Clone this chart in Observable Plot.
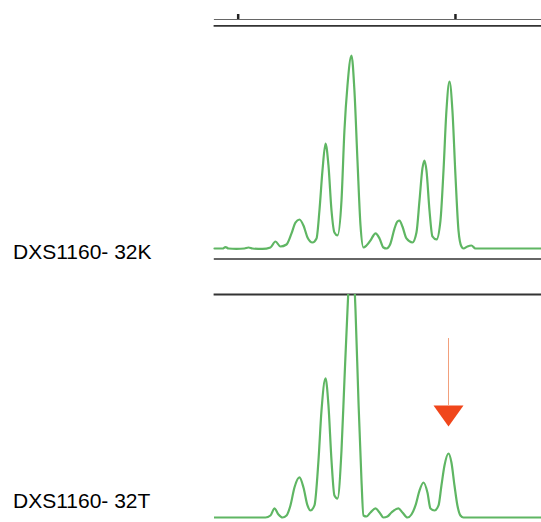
<!DOCTYPE html>
<html><head><meta charset="utf-8">
<script src="https://cdn.jsdelivr.net/npm/d3@7"></script>
<script src="https://cdn.jsdelivr.net/npm/@observablehq/plot@0.6"></script>
<style>
html,body{margin:0;padding:0;background:#fff;}
#chart{position:relative;width:541px;height:522px;overflow:hidden;font-family:Arial,"Liberation Sans",sans-serif;}
#chart svg{position:absolute;left:0;}
.lbl{position:absolute;left:13px;font-size:21px;line-height:21px;color:#000;white-space:nowrap;}
</style></head><body><div id="chart"></div>
<script>
// fragment size ticks (bp)
const sizeTicks = [120, 140];
const sizeDomain = [117.82, 147.92];

// sample 32K trace: size (bp) and signal (RFU)
const kBp  = [117.82,118.56,118.83,119.11,119.84,120.58,120.95,121.32,122.24,122.97,123.43,123.89,124.45,124.91,125.27,125.64,126.01,126.38,126.84,127.21,127.48,127.76,128.04,128.31,128.59,128.86,129.14,129.51,129.78,130.06,130.43,130.70,130.98,131.26,131.53,131.81,132.18,132.45,132.64,133.01,133.37,133.65,134.02,134.39,134.66,134.85,135.12,135.49,136.04,136.41,136.69,136.96,137.15,137.33,137.61,137.88,138.25,138.62,138.90,139.17,139.45,139.72,140.00,140.28,140.55,140.74,141.10,141.47,141.84,142.30,147.92];
const kRfu = [0,0,13,0,-4,0,9,0,-4,9,63,18,36,135,233,260,206,99,54,90,341,700,942,745,341,143,117,431,1058,1462,1731,1417,789,206,9,27,72,117,135,90,9,0,45,179,242,251,197,90,54,143,431,718,789,700,341,108,81,251,700,1238,1498,1238,655,161,18,0,18,27,0,0,0];

// sample 32T trace
const tBp  = [117.82,122.51,122.97,123.34,123.71,124.08,124.45,124.81,125.18,125.64,126.01,126.38,126.65,127.02,127.39,127.67,128.04,128.31,128.59,128.86,129.14,129.51,129.78,130.06,130.43,130.80,131.07,131.35,131.53,131.81,132.18,132.64,133.01,133.37,133.74,134.11,134.75,135.12,135.58,135.95,136.32,136.69,137.06,137.42,137.70,138.07,138.44,138.71,138.99,139.36,139.63,139.91,140.18,140.46,140.74,147.92];
const tRfu = [0,0,18,81,27,0,18,108,269,359,269,108,63,108,511,960,1247,1005,511,197,170,601,1229,1857,2484,1857,1049,332,18,9,45,81,45,0,9,45,81,45,0,27,108,242,314,224,81,63,108,287,466,574,493,287,108,18,0,0];

const sampleLabels = ["DXS1160- 32K", "DXS1160- 32T"];

// arrow annotation on sample 32T
const arrowBp = [139.36];
const arrowFrom = [1605];
const arrowTo = [1005];
const arrowHead = [910];

const kData = kBp.map((b, i) => ({bp: b, rfu: kRfu[i]}));
const tData = tBp.map((b, i) => ({bp: b, rfu: tRfu[i]}));
const arrowData = arrowBp.map((b, i) => ({bp: b, y1: arrowFrom[i], y2: arrowTo[i], yh: arrowHead[i]}));

const green = "#5fb663";
const downTriangle = {
  draw(ctx, size) {
    const r = Math.sqrt(size / Math.PI);
    ctx.moveTo(-r, -0.7 * r);
    ctx.lineTo(r, -0.7 * r);
    ctx.lineTo(0, 0.7 * r);
    ctx.closePath();
  }
};

const chartEl = document.getElementById("chart");

const panelK = Plot.plot({
  width: 541, height: 262,
  marginLeft: 214, marginRight: 0, marginTop: 19, marginBottom: 3.5,
  x: {domain: sizeDomain},
  y: {domain: [0, 2054], axis: null, insetBottom: 10.5},
  marks: [
    Plot.axisX({anchor: "top", ticks: sizeTicks, tickSize: 6, tickFormat: () => "", label: null, stroke: "#222", strokeWidth: 2.5}),
    Plot.frame({anchor: "top", stroke: "#666", strokeWidth: 1.2}),
    Plot.frame({anchor: "top", dy: 6.3, stroke: "#333", strokeWidth: 1.8}),
    Plot.frame({anchor: "bottom", stroke: "#333", strokeWidth: 1.4}),
    Plot.line(kData, {x: "bp", y: "rfu", curve: "monotone-x", stroke: green, strokeWidth: 2.2})
  ]
});
panelK.style.top = "0px";
chartEl.appendChild(panelK);

const panelT = Plot.plot({
  width: 541, height: 260,
  marginLeft: 214, marginRight: 0, marginTop: 32, marginBottom: 0,
  x: {domain: sizeDomain, axis: null},
  y: {domain: [0, 2000], axis: null, insetBottom: 5},
  marks: [
    Plot.frame({anchor: "top", stroke: "#333", strokeWidth: 1.8}),
    Plot.line(tData, {x: "bp", y: "rfu", curve: "monotone-x", stroke: green, strokeWidth: 2.2, clip: true}),
    Plot.ruleX(arrowData, {x: "bp", y1: "y1", y2: "y2", stroke: "#f2a07c", strokeWidth: 1}),
    Plot.dot(arrowData, {x: "bp", y: "yh", symbol: downTriangle, r: 15, fill: "#f0461b", stroke: "none"})
  ]
});
panelT.style.top = "262px";
chartEl.appendChild(panelT);

const labelTops = [241.2, 490.2];
sampleLabels.forEach((t, i) => {
  const d = document.createElement("div");
  d.className = "lbl";
  d.style.top = labelTops[i] + "px";
  d.textContent = t;
  chartEl.appendChild(d);
});
</script>
</body></html>
